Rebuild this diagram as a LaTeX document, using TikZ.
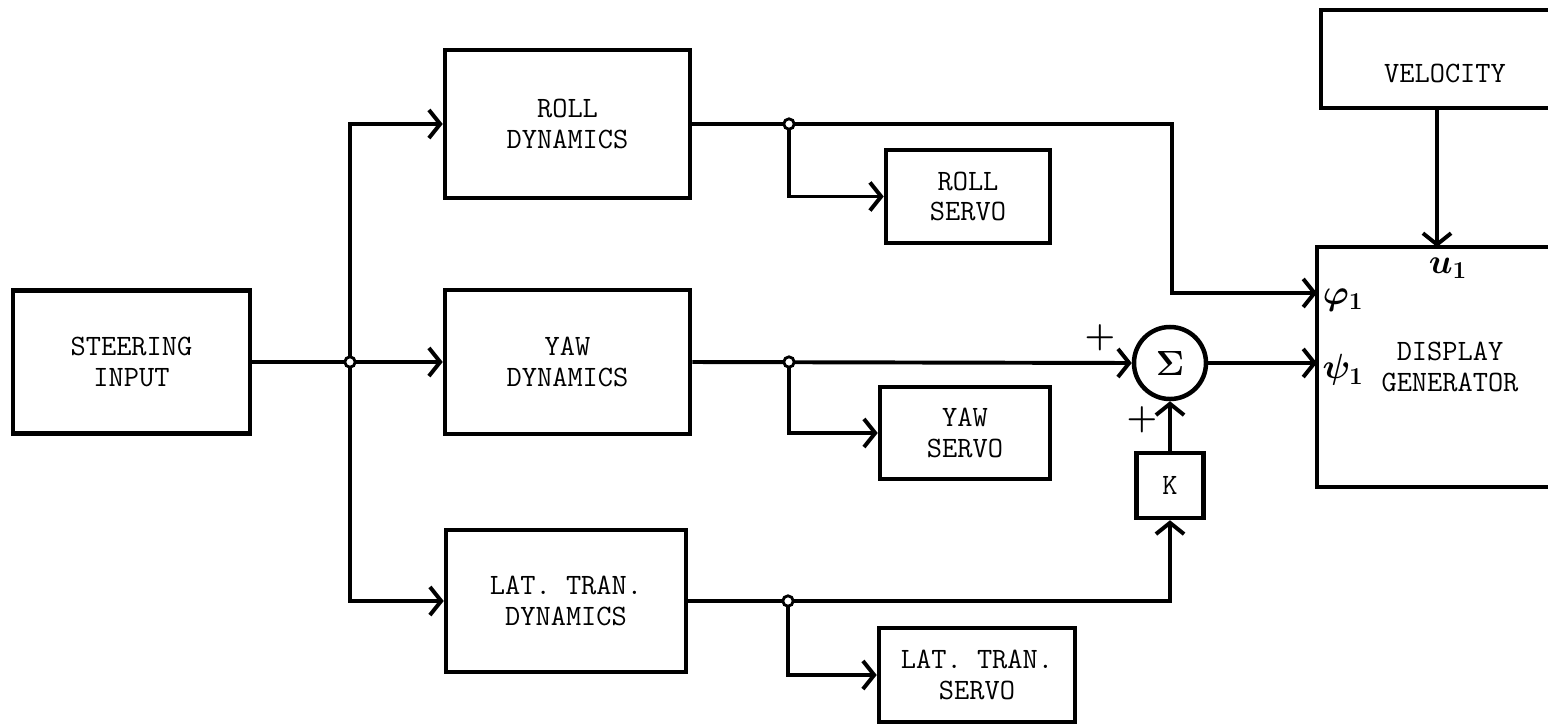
\documentclass[tikz,border=0pt]{standalone}
\usepackage{amsmath}
\usetikzlibrary{arrows.meta}
\newcommand\boxfont{\fontsize{21}{22}\selectfont\ttfamily}
\begin{document}
\begin{tikzpicture}[x=0.025cm,y=-0.025cm,
  line width=2.8pt,
  blk/.style={draw, line width=3.2pt, inner sep=0pt, align=center, font=\boxfont},
  arr/.style={-{Straight Barb[length=8pt,width=20pt]}},
  jn/.style={circle, draw, fill=white, line width=2pt, inner sep=0pt, minimum size=0.26cm},
  hand/.style={font=\fontsize{27}{27}\selectfont},
  plus/.style={font=\fontsize{26}{26}\selectfont}
]
\useasboundingbox (0,0) rectangle (1548,725);
\fill[white] (0,0) rectangle (1548,725);
\clip (0,0) rectangle (1548,725);

% blocks
\node[blk, minimum width=5.925cm, minimum height=3.575cm] (steer) at (131.5,362) {STEERING\\INPUT};
\node[blk, minimum width=6.125cm, minimum height=3.7cm] (roll) at (567.5,124) {ROLL\\DYNAMICS};
\node[blk, minimum width=6.125cm, minimum height=3.6cm] (yaw) at (567.5,362) {YAW\\DYNAMICS};
\node[blk, minimum width=6.0cm, minimum height=3.55cm] (lat) at (566,601) {LAT. TRAN.\\DYNAMICS};
\node[blk, minimum width=4.1cm, minimum height=2.325cm] (rollservo) at (968,196.5) {ROLL\\SERVO};
\node[blk, minimum width=4.25cm, minimum height=2.3cm] (yawservo) at (965,433) {YAW\\SERVO};
\node[blk, minimum width=4.9cm, minimum height=2.35cm] (latservo) at (977,675) {LAT. TRAN.\\SERVO};
\node[blk, minimum width=1.675cm, minimum height=1.625cm] (k) at (1170,485.5) {K};
\node[circle, draw, line width=3.2pt, minimum size=1.8cm, inner sep=0pt] (sum) at (1170,363)
  {\fontsize{30}{30}\selectfont$\boldsymbol{\Sigma}$};
\node[blk, minimum width=6.2cm, minimum height=2.45cm] (vel) at (1445,59)
  {\raisebox{-0.35cm}[\height][\depth]{VELOCITY}};
\node[blk, minimum width=6.65cm, minimum height=6.0cm] (disp) at (1450,367) {DISPLAY\\GENERATOR};

% coordinates
\coordinate (j0) at (350,362);
\coordinate (j1) at (789,124);
\coordinate (j2) at (789,362);
\coordinate (j3) at (788,601);
\coordinate (rc) at (1172,210);
\coordinate (phiin) at (1317,293);
\coordinate (psiin) at (1317,363);
\coordinate (uin) at (1437,247);

% connectors
\draw[arr] (steer.east) -- (yaw.west);
\draw[arr] (j0) |- (roll.west);
\draw[arr] (j0) |- (lat.west);
\draw[arr] (roll.east) -| (rc) |- (phiin);
\draw[arr] (j1) |- (rollservo.west);
\draw[arr] (yaw.east) -- (sum.west);
\draw[arr] (j2) |- (yawservo.west);
\draw[arr] (sum.east) -- (psiin);
\draw[arr] (k.north) -- (sum.south);
\draw[arr] (lat.east) -| (k.south);
\draw[arr] (j3) |- (latservo.west);
\draw[arr] (vel.south -| uin) -- (uin);

% junction dots
\foreach \j in {j0,j1,j2,j3} \node[jn] at (\j) {};

% labels
\node[hand] (phil) at (1343,300) {$\boldsymbol{\varphi_{1}}$};
\node[hand] (psil) at (1343,370) {$\boldsymbol{\psi_{1}}$};
\node[hand] (ul) at (1448,268) {$\boldsymbol{u_{1}}$};
\node[plus] (p1) at (1100,338) {$\boldsymbol{+}$};
\node[plus] (p2) at (1142,420) {$\boldsymbol{+}$};
\end{tikzpicture}
\end{document}
